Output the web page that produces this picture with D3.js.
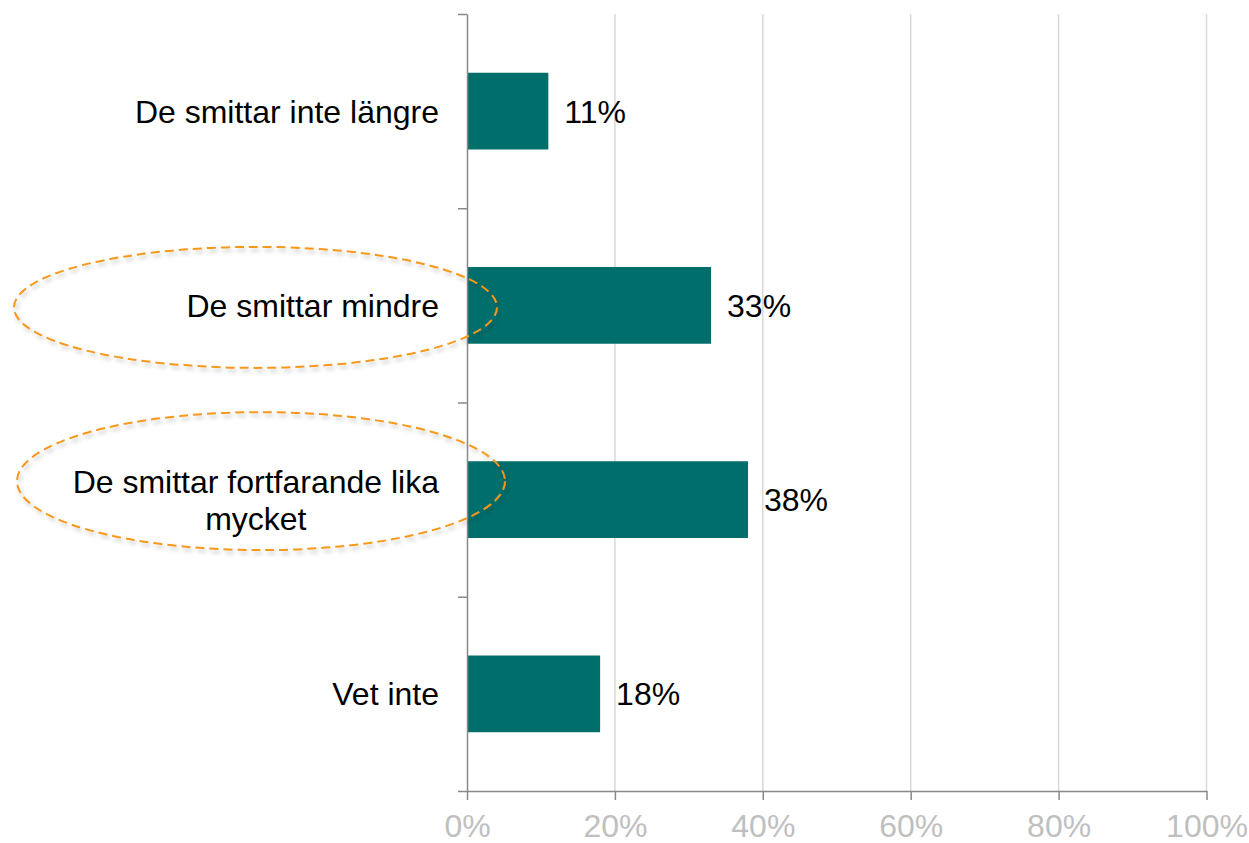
<!DOCTYPE html>
<html><head><meta charset="utf-8">
<script src="https://cdn.jsdelivr.net/npm/d3@7"></script>
<style>
html,body{margin:0;padding:0;background:#fff;}
svg{display:block;font-family:"Liberation Sans",Arial,sans-serif;}
</style></head>
<body>
<svg id="c" width="1249" height="843"></svg>
<script>
const categories = [["De smittar inte längre"], ["De smittar mindre"], ["De smittar fortfarande lika", "mycket"], ["Vet inte"]];
const values = [11, 33, 38, 18];
const labels = ["11%", "33%", "38%", "18%"];
const xTicks = [0, 20, 40, 60, 80, 100];
const highlighted = [1, 2];

const svg = d3.select("#c");
const pL = 467, pR = 1206.5, pT = 14, pB = 791;

const x = d3.scaleLinear().domain([0, 100]).range([pL, pR]);
const y = d3.scaleBand().domain(d3.range(categories.length)).range([pT, pB]).paddingInner(0.605).paddingOuter(0.3025);
const yb = d3.scaleLinear().domain([0, categories.length]).range([pT, pB]);

const defs = svg.append("defs");
const f = defs.append("filter").attr("id", "sh").attr("x", "-10%").attr("y", "-20%").attr("width", "120%").attr("height", "140%");
f.append("feDropShadow").attr("dx", 2).attr("dy", 3).attr("stdDeviation", 2).attr("flood-color", "#000").attr("flood-opacity", 0.25);

// gridlines
svg.append("g").selectAll("line").data(xTicks.filter(d => d > 0)).join("line")
  .attr("x1", d => x(d)).attr("x2", d => x(d)).attr("y1", pT).attr("y2", pB)
  .attr("stroke", "#d9d9d9").attr("stroke-width", 1.5);

// bars
svg.append("g").selectAll("rect").data(values).join("rect")
  .attr("x", x(0)).attr("y", (d, i) => y(i))
  .attr("width", d => x(d) - x(0)).attr("height", y.bandwidth())
  .attr("fill", "#006E6B");

// data labels
svg.append("g").selectAll("text").data(values).join("text")
  .attr("x", d => x(d) + 16).attr("y", (d, i) => y(i) + y.bandwidth() / 2)
  .attr("dy", "0.36em").attr("font-size", 32).attr("fill", "#000")
  .text((d, i) => labels[i]);

// x axis
const xa = svg.append("g").attr("transform", `translate(0,${pB})`)
  .call(d3.axisBottom(x).tickValues(xTicks).tickFormat(d => d + "%").tickSize(9).tickSizeOuter(0).tickPadding(14));
xa.select(".domain").attr("stroke", "#898989").attr("stroke-width", 1.5);
xa.selectAll(".tick line").attr("stroke", "#898989").attr("stroke-width", 1.5);
xa.selectAll(".tick text").attr("font-size", 32).attr("fill", "#bfbfbf").attr("font-family", "Liberation Sans, Arial, sans-serif");

// y axis (category boundaries)
const ya = svg.append("g").attr("transform", `translate(${pL},0)`)
  .call(d3.axisLeft(yb).tickValues(d3.range(categories.length + 1)).tickFormat("").tickSize(9).tickSizeOuter(0));
ya.select(".domain").attr("stroke", "#898989").attr("stroke-width", 1.5);
ya.selectAll(".tick line").attr("stroke", "#898989").attr("stroke-width", 1.5);

// category labels
const lineH = 37;
const cl = svg.append("g");
categories.forEach((lines, i) => {
  const cy = y(i) + y.bandwidth() / 2;
  const t = cl.append("text").attr("font-size", 32).attr("fill", "#000");
  const n = lines.length;
  const tmp = svg.append("text").attr("font-size", 32).style("visibility", "hidden");
  let maxW = 0;
  lines.forEach(l => { tmp.text(l); maxW = Math.max(maxW, tmp.node().getComputedTextLength()); });
  tmp.remove();
  const rightEdge = pL - 28;
  const cx = n > 1 ? rightEdge - maxW / 2 : rightEdge;
  t.attr("text-anchor", n > 1 ? "middle" : "end");
  lines.forEach((l, k) => {
    t.append("tspan").attr("x", cx).attr("y", cy + (k - (n - 1) / 2) * lineH).attr("dy", "0.36em").text(l);
  });
});

// highlight ellipses
const ellOffsets = {1: {cx: 255.5, dy: 2, rx: 241.5, ry: 60.5}, 2: {cx: 261, dy: -18.5, rx: 244, ry: 69}};
svg.append("g").selectAll("ellipse").data(highlighted).join("ellipse")
  .attr("cx", i => ellOffsets[i].cx)
  .attr("cy", i => y(i) + y.bandwidth() / 2 + ellOffsets[i].dy)
  .attr("rx", i => ellOffsets[i].rx).attr("ry", i => ellOffsets[i].ry)
  .attr("fill", "none").attr("stroke", "#F7981D").attr("stroke-width", 2)
  .attr("stroke-dasharray", "9,5").attr("filter", "url(#sh)");
</script>
</body></html>
